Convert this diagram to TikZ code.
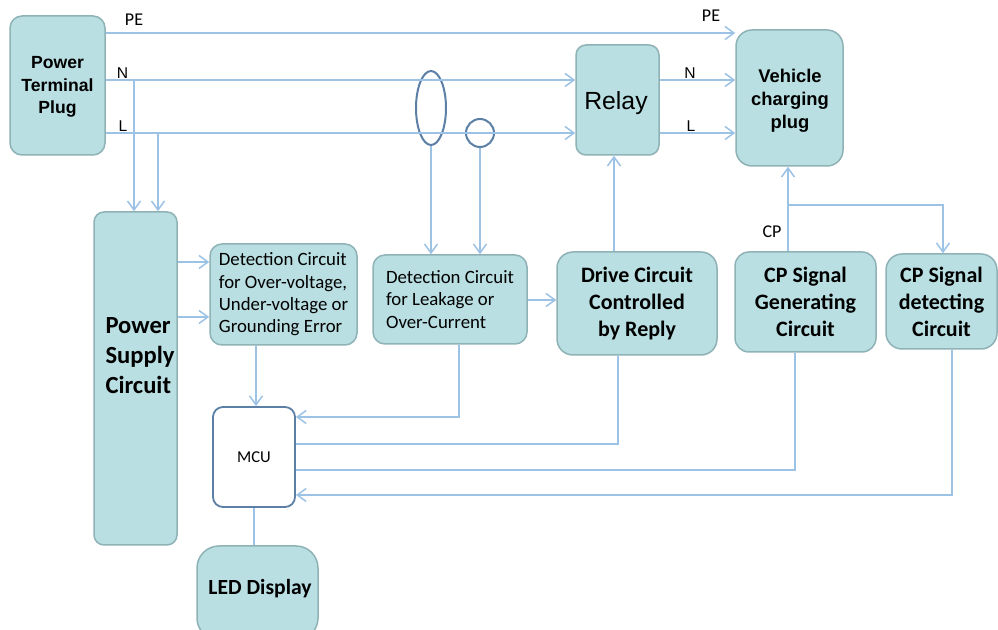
\documentclass[tikz,border=0pt]{standalone}
\usepackage{fontspec}
\setmainfont{Carlito}
\newfontfamily\arialf{Liberation Sans}
\usetikzlibrary{arrows.meta,shapes.geometric}
\definecolor{boxfill}{HTML}{B9DFE2}
\definecolor{boxline}{HTML}{8EB2B5}
\definecolor{wirec}{HTML}{9CC2E5}
\definecolor{ringc}{HTML}{5B7FA5}
\tikzset{
  box/.style={draw=boxline, fill=boxfill, line width=0.75pt, rounded corners=#1, inner sep=1pt, align=center},
  box/.default=5pt,
  wire/.style={draw=wirec, line width=0.75pt},
  arr/.style={wire, -{Straight Barb[length=4.5pt,width=6.5pt,line width=0.75pt]}},
  ringst/.style={draw=ringc, line width=1pt, inner sep=0pt},
  lblc/.style={inner sep=0pt, font=\fontsize{9}{10}\selectfont},
  lbla/.style={inner sep=0pt, font=\arialf\fontsize{7.8}{9}\selectfont},
  ariabold/.style={inner sep=0pt, align=center, font=\arialf\bfseries\fontsize{#1}{11.4}\selectfont},
  detfont/.style={font=\fontsize{9.4}{11.2}\selectfont, align=left},
  blkfont/.style={font=\bfseries\fontsize{11}{13.5}\selectfont},
}
\begin{document}
\begin{tikzpicture}[x=0.5pt,y=-0.5pt]
\useasboundingbox (0,0) rectangle (998,630);

% helper coordinates
\coordinate (yPE) at (0,33);
\coordinate (yN) at (0,80);
\coordinate (yL) at (0,133);
\coordinate (xNt) at (134,0);
\coordinate (xLt) at (158,0);
\coordinate (xRel) at (614,0);
\coordinate (xCP) at (788,0);
\coordinate (yCPb) at (0,205);
\coordinate (xCPd) at (943,0);
\coordinate (yA) at (0,262);
\coordinate (yB) at (0,317);
\coordinate (yD) at (0,300);
\coordinate (xM) at (256,0);
\coordinate (xD2) at (459,0);
\coordinate (yM1) at (0,417);
\coordinate (xDr) at (618,0);
\coordinate (yM2) at (0,444);
\coordinate (xCg) at (795,0);
\coordinate (yM3) at (0,470);
\coordinate (xCd) at (952,0);
\coordinate (yM4) at (0,495);

% boxes
\node[box=6pt, minimum width=47.5pt, minimum height=69.5pt] (ptp) at (57.5,85.5) {};
\node[ariabold=8.8] (ptpT) at (57.5,87) {Power\\Terminal\\Plug};
\node[box=5pt, minimum width=41.5pt, minimum height=55pt] (relay) at (617.5,100) {};
\node[inner sep=0pt, font=\arialf\fontsize{12.4}{14}\selectfont] (relayT) at (616,103) {Relay};
\node[box=8pt, minimum width=53.5pt, minimum height=68pt] (veh) at (789.5,98) {};
\node[ariabold=9.2] (vehT) at (790,101) {Vehicle\\charging\\plug};
\node[box=5pt, minimum width=41.5pt, minimum height=166.5pt] (psc) at (135.5,378.5) {};
\node[inner sep=0pt, align=left, font=\bfseries\fontsize{12.3}{15}\selectfont] (pscT) at (140,356) {Power\\Supply\\Circuit};
\node[box=6pt, minimum width=73.5pt, minimum height=50.5pt, detfont] (det1) at (283.5,294.5) {Detection Circuit\\for Over-voltage,\\Under-voltage or\\Grounding Error};
\node[box=6pt, minimum width=77pt, minimum height=44.5pt, detfont] (det2) at (450,299.5) {Detection Circuit\\for Leakage or\\Over-Current};
\node[box=8pt, minimum width=80pt, minimum height=51.5pt, blkfont] (drive) at (637,303.5) {Drive Circuit\\Controlled\\by Reply};
\node[box=7pt, minimum width=70.5pt, minimum height=50pt, blkfont] (cpgen) at (805.5,302) {CP Signal\\Generating\\Circuit};
\node[box=8pt, minimum width=55.5pt, minimum height=47.5pt, blkfont] (cpdet) at (941.5,301.5) {CP Signal\\detecting\\Circuit};
\node[draw=ringc, fill=white, line width=0.9pt, rounded corners=5pt, minimum width=41pt, minimum height=50pt, font=\fontsize{8.3}{10}\selectfont] (mcu) at (254,457) {MCU};
\node[box=11pt, minimum width=60.5pt, minimum height=47pt] (led) at (257.5,593) {};
\node[inner sep=0pt, font=\bfseries\fontsize{10.8}{13}\selectfont] (ledT) at (260,589) {LED Display};

% current sensors
\node[ringst, ellipse, minimum width=15pt, minimum height=37pt] (ct1) at (431,108) {};
\node[ringst, circle, minimum size=14pt] (ct2) at (480,133) {};

% labels
\node[lblc] (lPE1) at (134,20) {PE};
\node[lblc] (lPE2) at (711,16) {PE};
\node[lbla] (lN1) at (122.5,73) {N};
\node[lbla] (lL1) at (123,126) {L};
\node[lbla] (lN2) at (690,73) {N};
\node[lbla] (lL2) at (691,126) {L};
\node[lblc] (lCP) at (772,232) {CP};

% mains wires
\draw[arr] (ptp.east |- yPE) -- (veh.west |- yPE);
\draw[arr] (ptp.east |- yN) -- (relay.west |- yN);
\draw[arr] (ptp.east |- yL) -- (relay.west |- yL);
\draw[arr] (xNt |- yN) -- (xNt |- psc.north);
\draw[arr] (xLt |- yL) -- (xLt |- psc.north);
\draw[arr] (relay.east |- yN) -- (veh.west |- yN);
\draw[arr] (relay.east |- yL) -- (veh.west |- yL);

% sensors to detection circuit
\draw[arr] (ct1.south) -- (ct1.south |- det2.north);
\draw[arr] (ct2.south) -- (ct2.south |- det2.north);

% drive to relay
\draw[arr] (xRel |- drive.north) -- (xRel |- relay.south);

% CP
\draw[arr] (xCP |- cpgen.north) -- (xCP |- veh.south);
\draw[arr] (xCP |- yCPb) -| (xCPd |- cpdet.north);

% power supply to detection
\draw[arr] (psc.east |- yA) -- (det1.west |- yA);
\draw[arr] (psc.east |- yB) -- (det1.west |- yB);

% detection to drive
\draw[arr] (det2.east |- yD) -- (drive.west |- yD);

% MCU connections
\draw[arr] (xM |- det1.south) -- (xM |- mcu.north);
\draw[arr] (xD2 |- det2.south) |- (mcu.east |- yM1);
\draw[wire] (mcu.east |- yM2) -| (xDr |- drive.south);
\draw[wire] (mcu.east |- yM3) -| (xCg |- cpgen.south);
\draw[arr] (xCd |- cpdet.south) |- (mcu.east |- yM4);
\draw[wire] (mcu.south) -- (mcu.south |- led.north);
\end{tikzpicture}
\end{document}
